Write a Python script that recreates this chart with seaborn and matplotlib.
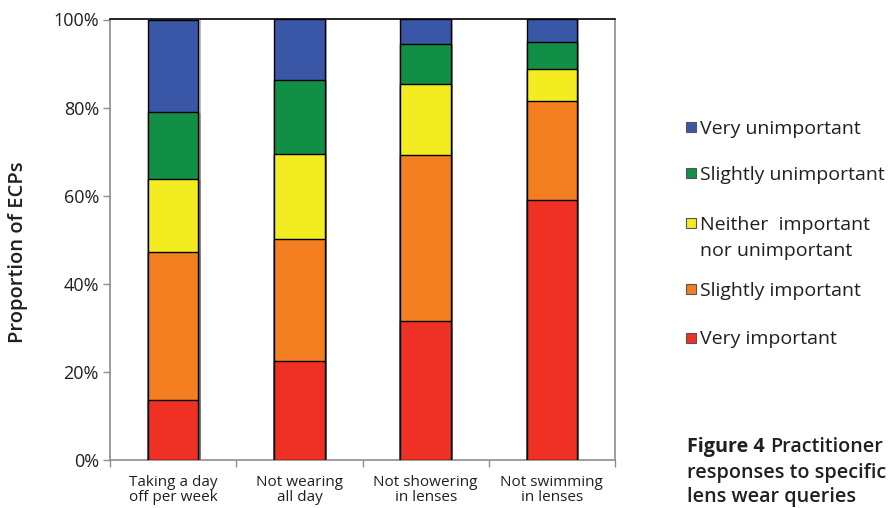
import numpy as np
import pandas as pd
import matplotlib
matplotlib.use("Agg")
import matplotlib.pyplot as plt
import matplotlib.patheffects as pe
from matplotlib.patches import Rectangle
from matplotlib.ticker import FixedLocator, PercentFormatter
import seaborn as sns

# Survey questions (x categories)
questions = ["Taking a day\noff per week", "Not wearing\nall day",
             "Not showering\nin lenses", "Not swimming\nin lenses"]

# Response shares (% of ECPs), bottom to top of each stack
very_important = [13.6, 22.5, 31.6, 59.0]
slightly_important = [33.6, 27.6, 37.6, 22.4]
neither = [16.7, 19.3, 16.1, 7.4]
slightly_unimportant = [15.0, 16.9, 9.2, 6.2]
very_unimportant = [21.1, 13.7, 5.5, 5.0]

responses = ["Very important", "Slightly important",
             "Neither  important\nnor unimportant",
             "Slightly unimportant", "Very unimportant"]
colors = ["#EE3124", "#F47F20", "#F3EC20", "#128F47", "#3A57A7"]

yticks = [0, 20, 40, 60, 80, 100]

sns.set_theme(style="white")
plt.rcParams["font.family"] = ["Open Sans", "DejaVu Sans"]
text_color = "#231f20"

W, H = 888, 508
shares = np.array([very_important, slightly_important, neither,
                   slightly_unimportant, very_unimportant])
tops = np.cumsum(shares, axis=0)

fig = plt.figure(figsize=(W / 100, H / 100), dpi=100)
ax = fig.add_axes([110 / W, 48 / H, 505 / W, 440.5 / H])

# Draw the stacks from the tallest cumulative layer down so each
# lower segment sits over the one above it.
shadow = [pe.SimplePatchShadow(offset=(1.6, -0.3), shadow_rgbFace="#7a7a7a", alpha=0.5),
          pe.Normal()]
for i in range(len(responses) - 1, -1, -1):
    df = pd.DataFrame({"question": questions, "share": tops[i]})
    sns.barplot(data=df, x="question", y="share", color=colors[i],
                saturation=1, width=0.4, edgecolor="black", linewidth=1.0,
                ax=ax, zorder=2 + (len(responses) - i))
for p in ax.patches:
    p.set_path_effects(shadow)

ax.set_xlim(-0.5, len(questions) - 0.5)
ax.set_ylim(0, 100)
ax.yaxis.set_major_locator(FixedLocator(yticks))
ax.yaxis.set_major_formatter(PercentFormatter(decimals=0))

# category boundary ticks, labels centred under bars
ax.set_xticks(np.arange(-0.5, len(questions)), minor=False)
ax.set_xticklabels([""] * (len(questions) + 1))
ax.set_xticks(np.arange(len(questions)), minor=True)
ax.set_xticklabels(questions, minor=True, fontsize=11, color=text_color,
                   linespacing=1.0)
ax.tick_params(axis="x", which="minor", length=0, pad=11)
ax.tick_params(axis="x", which="major", length=5, width=1, color="#8c8c8c",
               direction="out", bottom=True)
ax.tick_params(axis="y", length=5, width=1, color="#8c8c8c", direction="out",
               left=True, labelsize=13, labelcolor=text_color, pad=3)

ax.set_xlabel("")
ax.set_ylabel("Proportion of ECPs", fontsize=14.5, fontweight="semibold",
              color=text_color)
ax.yaxis.set_label_coords((28 - 110) / 505, 0.472)

for side in ["left", "bottom", "right"]:
    ax.spines[side].set_color("#8c8c8c")
    ax.spines[side].set_linewidth(1.2)
ax.spines["top"].set_color("black")
ax.spines["top"].set_linewidth(1.2)

# legend: small squares with labels, top entry = top of stack
legend_y = [337.5, 289.3, 223.3, 173.3, 127.3]
for color, label, yc in zip(colors, responses, legend_y):
    fig.patches.append(Rectangle((686 / W, 1 - (yc + 5) / H), 10 / W, 10 / H,
                                 transform=fig.transFigure, facecolor=color,
                                 edgecolor="#555555", linewidth=0.8))
    for k, line in enumerate(label.split("\n")):
        fig.text(700 / W, 1 - (yc + 6.5 + 26 * k) / H, line, fontsize=14,
                 color=text_color, ha="left", va="baseline")

# figure caption
cap_size = 14.2
fig.canvas.draw()
renderer = fig.canvas.get_renderer()
head = fig.text(687 / W, 1 - 452 / H, "Figure 4", fontsize=cap_size,
                fontweight="bold", color=text_color, ha="left", va="baseline")
x_end = head.get_window_extent(renderer).x1
fig.text((x_end + 5) / W, 1 - 452 / H, "Practitioner", fontsize=cap_size,
         fontweight="semibold", color=text_color, ha="left", va="baseline")
fig.text(687 / W, 1 - 478 / H, "responses to specific", fontsize=cap_size,
         fontweight="semibold", color=text_color, ha="left", va="baseline")
fig.text(687 / W, 1 - 502 / H, "lens wear queries", fontsize=cap_size,
         fontweight="semibold", color=text_color, ha="left", va="baseline")

fig.savefig("out.png", dpi=100)
